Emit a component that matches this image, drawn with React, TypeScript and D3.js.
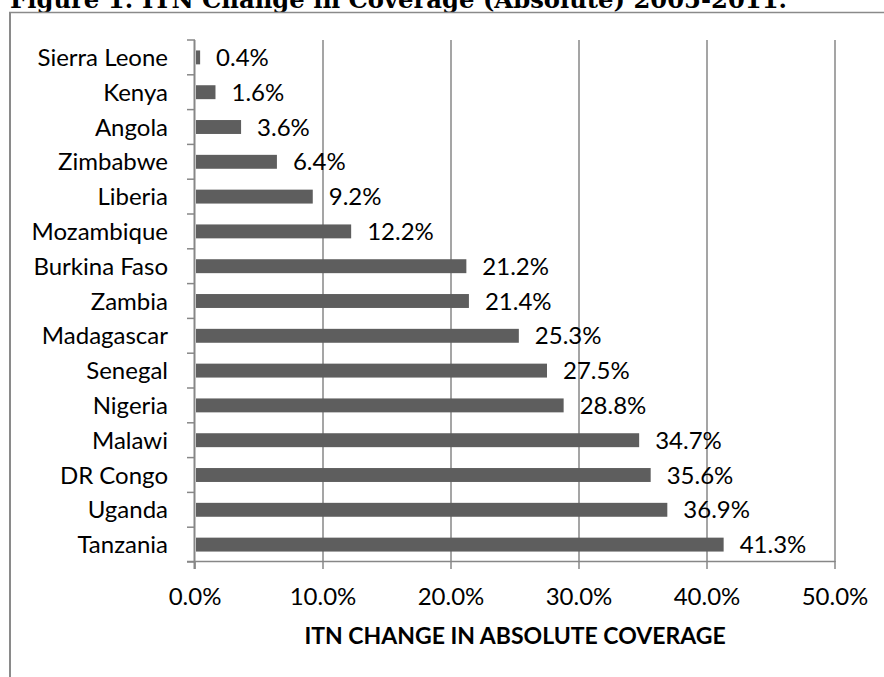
import React from "react";
import * as d3 from "d3";

const categories = [
  "Sierra Leone", "Kenya", "Angola", "Zimbabwe", "Liberia", "Mozambique",
  "Burkina Faso", "Zambia", "Madagascar", "Senegal", "Nigeria", "Malawi",
  "DR Congo", "Uganda", "Tanzania",
];
const values = [0.4, 1.6, 3.6, 6.4, 9.2, 12.2, 21.2, 21.4, 25.3, 27.5, 28.8, 34.7, 35.6, 36.9, 41.3];
const xTicks = [0, 10, 20, 30, 40, 50];
const title = "Figure 1: ITN Change in Coverage (Absolute) 2005-2011.";
const xTitle = "ITN CHANGE IN ABSOLUTE COVERAGE";

const W = 884;
const H = 677;
const FONT = "Lato, 'Open Sans', sans-serif";

export default function App() {
  const x = d3.scaleLinear().domain([0, 50]).range([195, 835]);
  const y = d3.scaleBand<string>().domain(categories).range([40, 562]).paddingInner(0.6).paddingOuter(0.3);
  const step = y.step();
  const boundaries = d3.range(categories.length + 1).map((i) => 40 + i * step);
  const grid = "#878787";
  return (
    <svg width={W} height={H} style={{ position: "absolute", left: 0, top: 0, background: "#fff" }}>
      <rect x={0} y={0} width={W} height={H} fill="#fff" />
      <text x={10} y={8} fontFamily="'DejaVu Serif', 'Liberation Serif', serif" fontWeight="bold" fontSize={24}
        textLength={777} lengthAdjust="spacingAndGlyphs" fill="#000">{title}</text>
      {/* frame */}
      <line x1={9} x2={W} y1={12.5} y2={12.5} stroke="#8a8a8a" strokeWidth={1.5} />
      <line x1={10} x2={10} y1={12} y2={H} stroke="#8a8a8a" strokeWidth={2} />
      {/* gridlines */}
      {xTicks.slice(1).map((t) => (
        <line key={"g" + t} x1={x(t)} x2={x(t)} y1={40} y2={562} stroke={grid} strokeWidth={1.5} />
      ))}
      {/* x ticks */}
      {xTicks.map((t) => (
        <line key={"xt" + t} x1={x(t)} x2={x(t)} y1={561} y2={569} stroke={grid} strokeWidth={1.5} />
      ))}
      {/* x axis */}
      <line x1={187} x2={835} y1={561.5} y2={561.5} stroke={grid} strokeWidth={1.5} />
      {/* y axis */}
      <line x1={194.5} x2={194.5} y1={40} y2={569} stroke={grid} strokeWidth={2} />
      {boundaries.map((b, i) => (
        <line key={"yt" + i} x1={187} x2={195} y1={b} y2={b} stroke={grid} strokeWidth={1.5} />
      ))}
      {/* bars */}
      {categories.map((c, i) => (
        <rect key={"b" + c} x={x(0) + 1} y={y(c)!} width={x(values[i]) - x(0) - 1} height={y.bandwidth()} fill="#5e5e5e" />
      ))}
      {/* category labels */}
      {categories.map((c) => (
        <text key={"l" + c} x={168} y={y(c)! + y.bandwidth() / 2} dy="0.36em" textAnchor="end"
          fontFamily={FONT} fontSize={24} fill="#000">{c}</text>
      ))}
      {/* value labels */}
      {categories.map((c, i) => (
        <text key={"v" + c} x={x(values[i]) + 16} y={y(c)! + y.bandwidth() / 2} dy="0.36em"
          fontFamily={FONT} fontSize={24} fill="#000">{values[i].toFixed(1) + "%"}</text>
      ))}
      {/* x tick labels */}
      {xTicks.map((t) => (
        <text key={"xl" + t} x={x(t)} y={596} dy="0.36em" textAnchor="middle"
          fontFamily={FONT} fontSize={24} fill="#000">{t.toFixed(1) + "%"}</text>
      ))}
      <text x={515} y={636} dy="0.36em" textAnchor="middle" fontFamily={FONT} fontWeight="bold" fontSize={23}
        fill="#000">{xTitle}</text>
    </svg>
  );
}
